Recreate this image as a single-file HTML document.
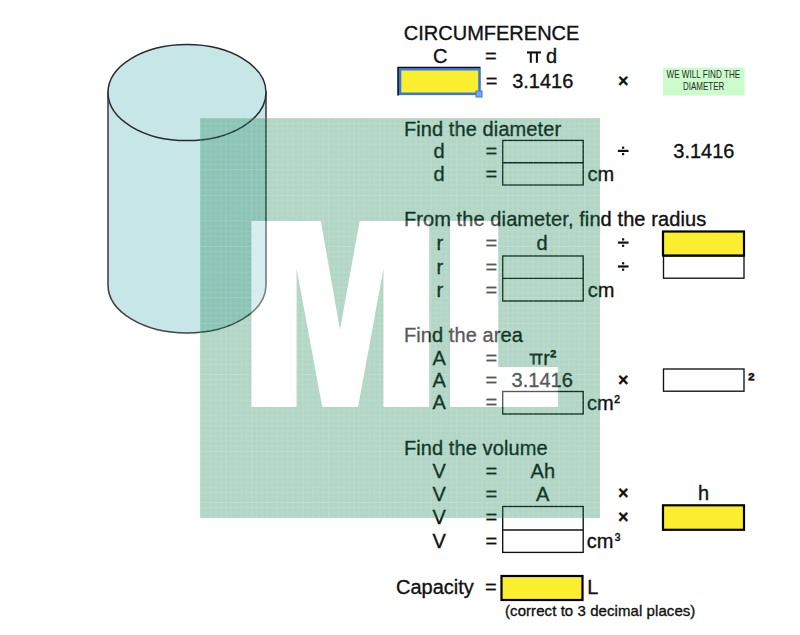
<!DOCTYPE html>
<html><head><meta charset="utf-8"><style>
html,body{margin:0;padding:0;background:#fff;width:800px;height:635px;overflow:hidden}
svg{position:absolute;left:0;top:0}
text{font-family:"Liberation Sans",sans-serif;font-size:20px;fill:#111;stroke:#111;stroke-width:0.35px}
</style></head><body>
<svg width="800" height="635" viewBox="0 0 800 635">
<defs>
<pattern id="grid" x="200" y="118" width="25.6" height="25.6" patternUnits="userSpaceOnUse">
<path d="M0.5 0V25.6M5.62 0V25.6M10.74 0V25.6M15.86 0V25.6M20.98 0V25.6M0 0.5H25.6M0 5.62H25.6M0 10.74H25.6M0 15.86H25.6M0 20.98H25.6" stroke="#fff" stroke-width="1" stroke-opacity="0.1" fill="none"/>
<path d="M0.5 0V25.6M0 0.5H25.6" stroke="#fff" stroke-width="1" stroke-opacity="0.06" fill="none"/>
</pattern>
</defs>
<!-- cylinder -->
<path d="M108,92 L108,285 A79,48 0 0 0 266,285 L266,92 Z" fill="#c7e6e8" stroke="#444" stroke-width="1.6"/>
<ellipse cx="187" cy="92.6" rx="79" ry="48" fill="#c7e6e8" stroke="#2a2a2a" stroke-width="1.5"/>

<!-- selected yellow cell -->
<rect x="398" y="67.5" width="82" height="27" fill="#fbee2e"/><path d="M398.2,95.5 V67.6 H480.5" fill="none" stroke="#000" stroke-width="1.8"/>
<rect x="400" y="69.2" width="79.5" height="24.6" fill="none" stroke="#3a78d8" stroke-width="2.6"/>
<rect x="476" y="91" width="6" height="6" fill="#7aa7ea" stroke="#3a78d8" stroke-width="1"/>
<!-- note box -->
<rect x="663" y="67.6" width="81.7" height="27.9" fill="#ccfccc"/>
<text x="666.5" y="77.6" style="font-size:10.6px;fill:#2a2a2a;stroke:none" textLength="73.7" lengthAdjust="spacingAndGlyphs">WE WILL FIND THE</text>
<text x="683" y="89.7" style="font-size:10.6px;fill:#2a2a2a;stroke:none" textLength="41.4" lengthAdjust="spacingAndGlyphs">DIAMETER</text>

<!-- boxes -->
<g fill="none" stroke="#111" stroke-width="1.35">
<rect x="502.7" y="140.4" width="80.5" height="44.6"/><line x1="502.7" y1="162.7" x2="583.2" y2="162.7"/>
<rect x="502.7" y="256" width="80.5" height="45"/><line x1="502.7" y1="278.3" x2="583.2" y2="278.3"/>
<rect x="502.7" y="391.5" width="80.5" height="22.5"/>
<rect x="502.7" y="506.5" width="80.5" height="45.9"/><line x1="502.7" y1="530" x2="583.2" y2="530"/>
<rect x="663.5" y="256" width="80.5" height="22.2"/>
<rect x="663.5" y="369" width="80.5" height="22.2"/>
</g>
<g stroke="#000" stroke-width="2.2" fill="#fbee2e">
<rect x="663" y="231.5" width="81" height="24"/>
<rect x="663" y="505.3" width="81" height="24.5"/>
<rect x="501.5" y="576" width="81" height="24"/>
</g>

<text x="403.80" y="40.00">CIRCUMFERENCE</text>
<text x="433.00" y="62.50">C</text>
<text x="485.00" y="62.50">=</text>
<text x="545.90" y="62.80">d</text>
<text x="485.80" y="87.50">=</text>
<text x="512.20" y="87.50">3.1416</text>
<text x="618.00" y="86.50" style="font-size:18px" font-weight="700">×</text>
<text x="403.90" y="135.80" style="letter-spacing:0.1px">Find the diameter</text>
<text x="433.50" y="158.30">d</text>
<text x="485.50" y="158.30">=</text>
<text x="433.50" y="181.00">d</text>
<text x="485.50" y="181.00">=</text>
<text x="587.60" y="181.00">cm</text>
<text x="673.30" y="158.30">3.1416</text>
<text x="403.90" y="226.00" style="letter-spacing:0.1px">From the diameter, find the radius</text>
<text x="436.50" y="249.80">r</text>
<text x="485.50" y="249.80">=</text>
<text x="436.50" y="273.50">r</text>
<text x="485.50" y="273.50">=</text>
<text x="436.50" y="296.70">r</text>
<text x="485.50" y="296.70">=</text>
<text x="536.50" y="249.80">d</text>
<text x="587.80" y="296.70">cm</text>
<text x="403.90" y="341.50" style="letter-spacing:0.1px">Find the area</text>
<text x="432.50" y="364.60">A</text>
<text x="485.50" y="364.60">=</text>
<text x="432.50" y="386.90">A</text>
<text x="485.50" y="386.90">=</text>
<text x="432.50" y="409.20">A</text>
<text x="485.50" y="409.20">=</text>
<text x="543.30" y="364.60">r</text>
<text x="511.60" y="386.90">3.1416</text>
<text x="587.10" y="409.50">cm</text>
<text x="618.00" y="386.25" style="font-size:18px" font-weight="700">×</text>
<text x="748.00" y="386.75" font-weight="700">²</text>
<text x="403.90" y="454.70" style="letter-spacing:0.1px">Find the volume</text>
<text x="432.50" y="477.80">V</text>
<text x="485.50" y="477.80">=</text>
<text x="432.50" y="500.70">V</text>
<text x="485.50" y="500.70">=</text>
<text x="432.50" y="524.20">V</text>
<text x="485.50" y="524.20">=</text>
<text x="432.50" y="547.80">V</text>
<text x="485.50" y="547.80">=</text>
<text x="530.60" y="477.80">Ah</text>
<text x="536.00" y="500.70">A</text>
<text x="586.80" y="547.80">cm</text>
<text x="618.00" y="499.20" style="font-size:18px" font-weight="700">×</text>
<text x="618.00" y="523.20" style="font-size:18px" font-weight="700">×</text>
<text x="698.00" y="500.40">h</text>
<text x="396.00" y="594.20">Capacity</text>
<text x="485.00" y="594.20">=</text>
<text x="587.30" y="594.40">L</text>
<text x="505.00" y="616.00" style="font-size:15px;letter-spacing:0.07px">(correct to 3 decimal places)</text>
<text x="550.00" y="363.75" style="font-size:19px" font-weight="700">²</text>
<text x="614.20" y="407.80" style="font-size:17px">²</text>
<text x="614.70" y="545.60" style="font-size:17px">³</text>
<g fill="#111">
<!-- pi symbols -->
<rect x="527" y="51.4" width="14" height="2.1"/><rect x="529.8" y="52" width="2" height="10.8"/><rect x="535.9" y="52" width="2" height="10.8"/>
<rect x="529.5" y="353.5" width="13.2" height="2"/><rect x="532.6" y="354" width="2" height="10.6"/><rect x="538.4" y="354" width="2" height="10.6"/>
<!-- divide symbols -->
<rect x="617.9" y="149.80" width="10.6" height="2.2"/><rect x="622" y="146.60" width="2.2" height="2.2"/><rect x="622" y="153.00" width="2.2" height="2.2"/>
<rect x="617.9" y="241.50" width="10.6" height="2.2"/><rect x="622" y="238.30" width="2.2" height="2.2"/><rect x="622" y="244.70" width="2.2" height="2.2"/>
<rect x="617.9" y="265.40" width="10.6" height="2.2"/><rect x="622" y="262.20" width="2.2" height="2.2"/><rect x="622" y="268.60" width="2.2" height="2.2"/>
</g>

<!-- watermark -->
<path d="M200,118 H600 V518 H200 Z M251.5,221 L320.7,221 L340,330 L359.7,221 L429.2,221 L429.2,407 L383.5,407 L383.5,268 L358,407 L322.3,407 L296.5,268 L296.5,407 L251.5,407 Z M450,221 L498.2,221 L498.2,367 L557.8,367 L557.8,407 L450,407 Z" fill="#007641" fill-opacity="0.3" fill-rule="evenodd"/>
<path d="M200,118 H600 V518 H200 Z M251.5,221 L320.7,221 L340,330 L359.7,221 L429.2,221 L429.2,407 L383.5,407 L383.5,268 L358,407 L322.3,407 L296.5,268 L296.5,407 L251.5,407 Z M450,221 L498.2,221 L498.2,367 L557.8,367 L557.8,407 L450,407 Z" fill="url(#grid)" fill-rule="evenodd"/>
<path d="M251.5,221 L320.7,221 L340,330 L359.7,221 L429.2,221 L429.2,407 L383.5,407 L383.5,268 L358,407 L322.3,407 L296.5,268 L296.5,407 L251.5,407 Z M450,221 L498.2,221 L498.2,367 L557.8,367 L557.8,407 L450,407 Z" fill="#fff" fill-opacity="0.3"/>
</svg>
</body></html>
